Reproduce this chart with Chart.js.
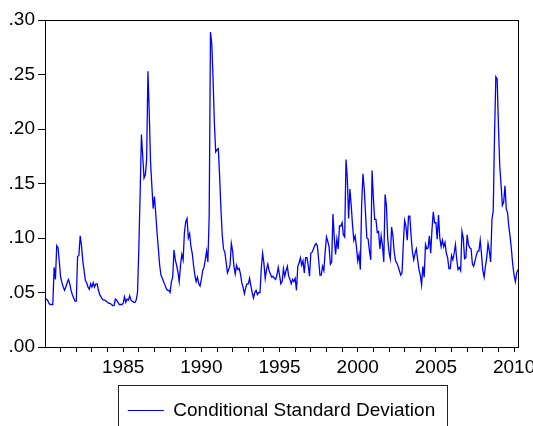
<!DOCTYPE html>
<html>
<head>
<meta charset="utf-8">
<title>Conditional Standard Deviation</title>
<script src="https://cdn.jsdelivr.net/npm/chart.js@4.4.0/dist/chart.umd.min.js"></script>
<style>
    html, body { margin: 0; padding: 0; background: #fff; }
</style>
</head>
<body>
<canvas id="sdchart" width="533" height="426"></canvas>
<script>
//Sample: monthly, 1980M01 - 2010M04
const firstYear = 1980;
const lastYear = 2010;
const lastMonth = 4;
const labelYears = [1985, 1990, 1995, 2000, 2005, 2010];

//Conditional standard deviation, one row per year
const condSd = [
    0.043, 0.044, 0.043, 0.040, 0.039, 0.039, 0.039, 0.073, 0.062, 0.093, 0.091, 0.078, // 1980
    0.064, 0.059, 0.055, 0.052, 0.055, 0.059, 0.062, 0.058, 0.052, 0.048, 0.045, 0.042, // 1981
    0.042, 0.083, 0.084, 0.102, 0.093, 0.079, 0.070, 0.061, 0.059, 0.055, 0.053, 0.058, // 1982
    0.055, 0.059, 0.055, 0.058, 0.058, 0.052, 0.048, 0.046, 0.044, 0.043, 0.043, 0.042, // 1983
    0.041, 0.040, 0.040, 0.039, 0.038, 0.038, 0.044, 0.043, 0.041, 0.039, 0.039, 0.039, // 1984
    0.040, 0.046, 0.041, 0.044, 0.043, 0.047, 0.043, 0.042, 0.041, 0.041, 0.043, 0.050, // 1985
    0.090, 0.140, 0.195, 0.175, 0.155, 0.158, 0.172, 0.253, 0.215, 0.170, 0.148, 0.127, // 1986
    0.138, 0.122, 0.105, 0.090, 0.075, 0.066, 0.063, 0.060, 0.057, 0.054, 0.052, 0.052, // 1987
    0.050, 0.060, 0.064, 0.089, 0.080, 0.075, 0.069, 0.060, 0.075, 0.085, 0.080, 0.105, // 1988
    0.115, 0.118, 0.100, 0.104, 0.092, 0.086, 0.075, 0.066, 0.060, 0.064, 0.058, 0.056, // 1989
    0.062, 0.070, 0.073, 0.080, 0.088, 0.078, 0.120, 0.289, 0.278, 0.245, 0.205, 0.179, // 1990
    0.181, 0.182, 0.157, 0.127, 0.103, 0.090, 0.087, 0.078, 0.068, 0.071, 0.075, 0.095, // 1991
    0.088, 0.074, 0.067, 0.075, 0.071, 0.072, 0.067, 0.059, 0.055, 0.049, 0.054, 0.058, // 1992
    0.058, 0.063, 0.056, 0.050, 0.045, 0.050, 0.052, 0.048, 0.050, 0.050, 0.072, 0.086, // 1993
    0.077, 0.063, 0.071, 0.076, 0.070, 0.067, 0.064, 0.065, 0.063, 0.062, 0.066, 0.073, // 1994
    0.066, 0.058, 0.060, 0.072, 0.065, 0.070, 0.074, 0.065, 0.062, 0.058, 0.062, 0.060, // 1995
    0.063, 0.052, 0.074, 0.077, 0.082, 0.075, 0.079, 0.068, 0.082, 0.082, 0.075, 0.065, // 1996
    0.086, 0.087, 0.090, 0.093, 0.095, 0.093, 0.080, 0.066, 0.066, 0.074, 0.070, 0.087, // 1997
    0.101, 0.097, 0.092, 0.076, 0.078, 0.122, 0.100, 0.085, 0.099, 0.090, 0.111, 0.111, // 1998
    0.114, 0.103, 0.101, 0.172, 0.155, 0.118, 0.145, 0.130, 0.112, 0.098, 0.102, 0.092, // 1999
    0.079, 0.085, 0.071, 0.130, 0.159, 0.145, 0.122, 0.100, 0.099, 0.088, 0.080, 0.162, // 2000
    0.137, 0.117, 0.117, 0.105, 0.106, 0.090, 0.102, 0.093, 0.078, 0.140, 0.130, 0.100, // 2001
    0.087, 0.081, 0.110, 0.102, 0.087, 0.079, 0.077, 0.074, 0.070, 0.066, 0.068, 0.095, // 2002
    0.116, 0.111, 0.098, 0.120, 0.120, 0.101, 0.087, 0.080, 0.086, 0.090, 0.080, 0.071, // 2003
    0.066, 0.057, 0.074, 0.064, 0.094, 0.090, 0.091, 0.102, 0.086, 0.108, 0.124, 0.114, // 2004
    0.114, 0.099, 0.121, 0.100, 0.092, 0.098, 0.092, 0.096, 0.086, 0.082, 0.072, 0.072, // 2005
    0.084, 0.080, 0.086, 0.094, 0.080, 0.071, 0.073, 0.070, 0.106, 0.100, 0.081, 0.082, // 2006
    0.103, 0.094, 0.091, 0.090, 0.076, 0.074, 0.079, 0.084, 0.088, 0.088, 0.098, 0.085, // 2007
    0.070, 0.064, 0.074, 0.082, 0.095, 0.088, 0.078, 0.117, 0.125, 0.195, 0.248, 0.246, // 2008
    0.202, 0.166, 0.149, 0.130, 0.133, 0.148, 0.127, 0.123, 0.110, 0.101, 0.089, 0.075, // 2009
    0.066, 0.060, 0.068, 0.071                                                          // 2010
];

//Category labels like 1980M01
const months = [];
for (let y = firstYear; y <= lastYear; y++) {
    const last = y === lastYear ? lastMonth : 12;
    for (let m = 1; m <= last; m++) {
        months.push(`${y}M${String(m).padStart(2, '0')}`);
    }
}

const isJanuary = i => months[i] !== undefined && months[i].endsWith('M01') && i > 0;
const yearOf = i => parseInt(months[i].slice(0, 4));

const fontFamily = "'Liberation Sans', Arial, sans-serif";

//Box round the plot and round the legend
const framePlugin = {
    id: 'frame',
    afterDraw(chart) {
        const {ctx, chartArea} = chart;
        ctx.save();
        ctx.strokeStyle = '#000';
        ctx.lineWidth = 1;
        ctx.strokeRect(chartArea.left + 0.5, chartArea.top + 0.5,
            chartArea.right - chartArea.left, chartArea.bottom - chartArea.top);
        const hb = chart.legend.legendHitBoxes[0];
        if (hb) {
            ctx.strokeStyle = '#222';
            ctx.strokeRect(Math.round(hb.left - 10) + 0.5, Math.round(hb.top - 16) + 0.5,
                Math.round(hb.width + 22), 60);
        }
        ctx.restore();
    }
};

const sdChart = new Chart(
    document.getElementById('sdchart'),
    {
        type: 'line',
        data: {
            labels: months,
            datasets: [{
                label: 'Conditional Standard Deviation',
                data: condSd,
                borderColor: '#0000ff',
                backgroundColor: '#0000ff',
                borderWidth: 1.3,
                fill: false,
            }]
        },
        options: {
            responsive: false,
            animation: false,
            devicePixelRatio: 1,
            layout: {
                padding: { top: 20, right: 15, bottom: -4, left: 0 }
            },
            elements: {
                line: { tension: 0 },
                point: { radius: 0 }
            },
            scales: {
                x: {
                    type: 'category',
                    offset: false,
                    grid: {
                        offset: false,
                        drawOnChartArea: false,
                        drawTicks: true,
                        tickLength: 5,
                        color: c => isJanuary(c.index) ? '#000' : 'rgba(0,0,0,0)',
                    },
                    border: { display: true, color: '#000', width: 1 },
                    ticks: {
                        autoSkip: false,
                        maxRotation: 0,
                        minRotation: 0,
                        padding: 4,
                        color: '#000',
                        font: { family: fontFamily, size: 19 },
                        callback: (v, i) => isJanuary(i) && labelYears.includes(yearOf(i)) ? String(yearOf(i)) : '',
                    },
                    afterFit: s => { s.height = 47; }
                },
                y: {
                    min: 0,
                    max: 0.30,
                    grid: {
                        drawOnChartArea: false,
                        drawTicks: true,
                        tickLength: 7,
                        color: '#000',
                    },
                    border: { display: true, color: '#000', width: 1 },
                    ticks: {
                        stepSize: 0.05,
                        padding: 3,
                        color: '#000',
                        font: { family: fontFamily, size: 19 },
                        callback: v => v.toFixed(2).replace(/^0/, ''),
                    },
                    afterFit: s => { s.width = 45; }
                }
            },
            plugins: {
                tooltip: { enabled: false },
                legend: {
                    position: 'bottom',
                    fullSize: false,
                    align: 'center',
                    labels: {
                        boxWidth: 36,
                        boxHeight: 1,
                        padding: 7,
                        color: '#000',
                        font: { family: fontFamily, size: 19 },
                        generateLabels: chart => [{
                            text: chart.data.datasets[0].label,
                            fillStyle: '#0000ff',
                            strokeStyle: '#0000ff',
                            lineWidth: 0,
                            hidden: false,
                            datasetIndex: 0,
                        }]
                    }
                }
            }
        },
        plugins: [framePlugin]
    }
);
</script>
</body>
</html>
